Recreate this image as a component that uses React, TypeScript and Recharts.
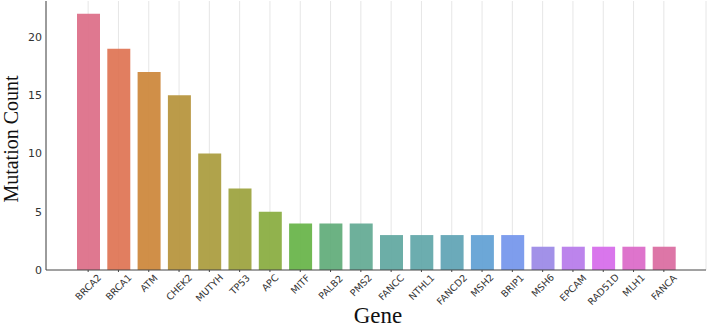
import React from "react";
import {
  BarChart,
  Bar,
  XAxis,
  YAxis,
  CartesianGrid,
  Cell,
  Label,
} from "recharts";

const genes = [
  "BRCA2", "BRCA1", "ATM", "CHEK2", "MUTYH", "TP53", "APC", "MITF", "PALB2", "PMS2",
  "FANCC", "NTHL1", "FANCD2", "MSH2", "BRIP1", "MSH6", "EPCAM", "RAD51D", "MLH1", "FANCA",
];

const counts = [22, 19, 17, 15, 10, 7, 5, 4, 4, 4, 3, 3, 3, 3, 3, 2, 2, 2, 2, 2];

const barColors = [
  "#dc6c87", "#de7352", "#cc8638", "#b5923a", "#a99b3c", "#9ba23c", "#88ab3e",
  "#66b346", "#5fab78", "#62a993", "#60a79f", "#5fa6a8", "#5ea3b4", "#5f9fd4",
  "#7395eb", "#9a88e6", "#b67aea", "#d66aea", "#db68c8", "#da6aa0",
];

const yTicks = [0, 5, 10, 15, 20];

const data = genes.map((gene, i) => ({ gene, count: counts[i] }));

const TICK_FS = 9.5;

// rough DejaVu Sans widths, so the rotated label box can be centred on its tick
const textWidth = (s: string) =>
  s.split("").reduce((w, c) => {
    if (c === "I") return w + 0.3;
    if (c === "M") return w + 0.86;
    if (/[0-9]/.test(c)) return w + 0.64;
    return w + 0.7;
  }, 0) * TICK_FS;

const GeneTick = (props: any) => {
  const { x, y, payload } = props;
  const L = textWidth(payload.value);
  const H = (L + TICK_FS * 0.75) / Math.SQRT2;
  const cy = y - 1 + H / 2;
  return (
    <text
      x={x}
      y={cy}
      textAnchor="middle"
      dominantBaseline="central"
      transform={`rotate(-45, ${x}, ${cy})`}
      fontSize={TICK_FS}
      fontFamily="DejaVu Sans"
      fill="#333"
    >
      {payload.value}
    </text>
  );
};

export default function App() {
  return (
    <div style={{ position: "absolute", left: 0, top: 0, background: "#fff" }}>
      <BarChart
        width={708}
        height={332}
        data={data}
        margin={{ top: 1, right: 2, left: 0, bottom: 0 }}
      >
        <CartesianGrid vertical horizontal={false} stroke="#e6e6e6" />
        <XAxis
          dataKey="gene"
          interval={0}
          height={62}
          padding={{ left: 27, right: 27 }}
          stroke="#444"
          tickSize={2}
          tick={<GeneTick />}
        >
          <Label
            content={() => (
              <text
                x={378}
                y={323}
                textAnchor="middle"
                fontSize={23}
                fontFamily="Liberation Serif"
                fill="#111"
              >
                Gene
              </text>
            )}
          />
        </XAxis>
        <YAxis
          width={46}
          domain={[0, 23.1]}
          ticks={yTicks}
          stroke="#444"
          tickLine={false}
          tickSize={2}
          tickMargin={2}
          tick={{ fontSize: 11, fontFamily: "DejaVu Sans", fill: "#333" }}
        >
          <Label
            content={() => (
              <text
                x={18}
                y={139}
                textAnchor="middle"
                fontSize={20}
                fontFamily="Liberation Serif"
                fill="#111"
                transform="rotate(-90, 18, 139)"
              >
                Mutation Count
              </text>
            )}
          />
        </YAxis>
        <Bar dataKey="count" barSize={23} isAnimationActive={false} fillOpacity={0.92}>
          {data.map((d, i) => (
            <Cell key={d.gene} fill={barColors[i]} />
          ))}
        </Bar>
      </BarChart>
    </div>
  );
}
